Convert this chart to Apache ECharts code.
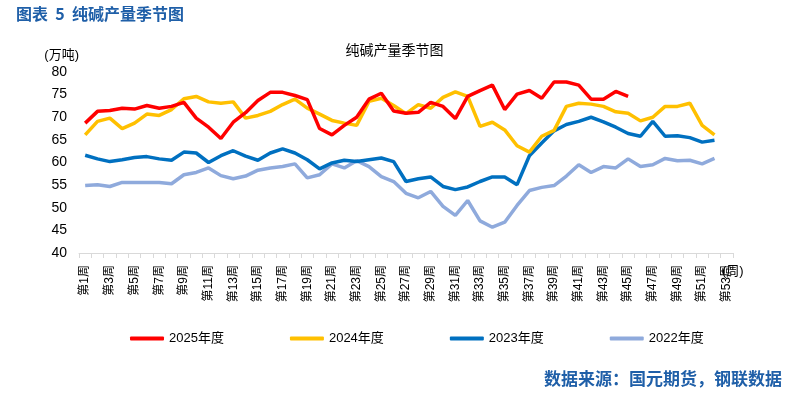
<!DOCTYPE html>
<html>
<head>
<meta charset="utf-8">
<script src="https://cdn.jsdelivr.net/npm/echarts@6/dist/echarts.min.js"></script>
<style>
html,body{margin:0;padding:0;background:#fff;}
#c{width:789px;height:393px;}
</style>
</head>
<body>
<div id="c"></div>
<script>
var weeks = [];
for (var i = 1; i <= 53; i++) weeks.push('第' + i + '周');

var s2025 = [68.7,71.3,71.5,72.0,71.8,72.6,72.0,72.4,73.3,69.8,67.8,65.3,68.9,71.0,
  73.7,75.5,75.5,74.8,73.9,67.5,66.1,68.2,70.0,74.0,75.3,71.4,70.9,71.1,73.3,72.4,
  69.7,74.6,75.9,77.1,71.7,75.1,75.9,74.2,77.8,77.8,77.1,74.0,74.0,75.7,74.6];
var s2024 = [66.1,69.1,69.8,67.5,68.7,70.7,70.4,71.7,74.1,74.6,73.4,73.1,73.4,69.8,
  70.4,71.3,72.8,74.0,72.0,70.7,69.3,68.7,68.2,73.5,74.2,72.6,70.8,72.8,72.0,74.4,
  75.6,74.6,68.0,68.9,67.2,63.7,62.3,65.8,67.1,72.4,73.1,72.9,72.4,71.2,70.9,69.2,
  70.0,72.4,72.4,73.1,68.2,66.1];
var s2023 = [61.6,60.8,60.2,60.6,61.1,61.3,60.8,60.5,62.3,62.1,60.0,61.5,62.6,61.4,
  60.5,62.1,63.0,62.1,60.6,58.6,59.9,60.5,60.2,60.6,61.0,60.2,55.8,56.4,56.8,54.7,
  54.0,54.6,55.8,56.8,56.8,55.1,61.5,64.3,67.0,68.4,69.1,70.0,69.0,67.8,66.4,65.8,
  69.1,65.8,65.9,65.5,64.5,64.9];
var s2022 = [54.9,55.1,54.7,55.6,55.6,55.6,55.6,55.3,57.3,57.8,58.8,57.1,56.4,57.0,
  58.3,58.8,59.1,59.7,56.6,57.3,59.7,58.8,60.4,59.1,56.9,55.8,53.2,52.2,53.6,50.3,
  48.3,51.6,47.1,45.7,46.8,50.5,53.8,54.5,54.9,57.0,59.5,57.8,59.1,58.8,60.8,59.1,
  59.5,60.9,60.4,60.5,59.7,60.9];

var seriesNames = ['2025年度','2024年度','2023年度','2022年度'];
var seriesColors = ['#FF0000','#FFC000','#0070C0','#8FAADC'];
var seriesData = [s2025, s2024, s2023, s2022];

var FONT = '"Liberation Sans", Arial, "Noto Sans CJK SC", sans-serif';
var CJK = '"Noto Sans CJK SC", sans-serif';

var chart = echarts.init(document.getElementById('c'), null, {renderer:'canvas'});
var series = seriesNames.map(function(n, k){
  return {
    name: n, type: 'line', data: seriesData[k], symbol: 'none',
    lineStyle: {color: seriesColors[k], width: 3.5},
    itemStyle: {color: seriesColors[k]},
    z: 10 - k
  };
});

chart.setOption({
  animation: false,
  backgroundColor: '#ffffff',
  textStyle: {fontFamily: FONT},
  title: [
    {text: '图表  5  纯碱产量季节图', left: 11, top: 1,
     textStyle: {color: '#1F5FA8', fontSize: 16, fontWeight: 'bold', fontFamily: CJK}},
    {text: '纯碱产量季节图', left: 'center', top: 38,
     textStyle: {color: '#000', fontSize: 14, fontWeight: 'normal', fontFamily: CJK}},
    {text: '数据来源：国元期货，钢联数据', right: 2, top: 365,
     textStyle: {color: '#1F5FA8', fontSize: 17, fontWeight: 'bold', fontFamily: CJK}}
  ],
  legend: {
    data: seriesNames, left: 125, top: 327, itemGap: 66,
    icon: 'roundRect', itemWidth: 34, itemHeight: 4,
    textStyle: {color: '#000', fontSize: 13, fontFamily: FONT}
  },
  grid: {left: 79, right: 56, top: 72, bottom: 140, containLabel: false},
  xAxis: {
    type: 'category', data: weeks, boundaryGap: true,
    axisLine: {lineStyle: {color: '#D9D9D9'}},
    axisTick: {show: true, interval: 0, length: 5, lineStyle: {color: '#D9D9D9'}},
    axisLabel: {interval: 1, rotate: 90, color: '#000', fontSize: 12, margin: 12, fontFamily: FONT},
    splitLine: {show: false}
  },
  yAxis: {
    type: 'value', min: 40, max: 80, interval: 5,
    name: '(万吨)', nameLocation: 'end', nameGap: 10,
    nameTextStyle: {color: '#000', fontSize: 13, align: 'right', fontFamily: FONT},
    axisLine: {show: false}, axisTick: {show: false},
    axisLabel: {color: '#000', fontSize: 14, margin: 12, fontFamily: FONT},
    splitLine: {show: false}
  },
  graphic: [
    {type: 'text', left: 722, top: 265, style: {text: '(周)', fill: '#000', font: '13px ' + FONT}}
  ],
  series: series
});
</script>
</body>
</html>
